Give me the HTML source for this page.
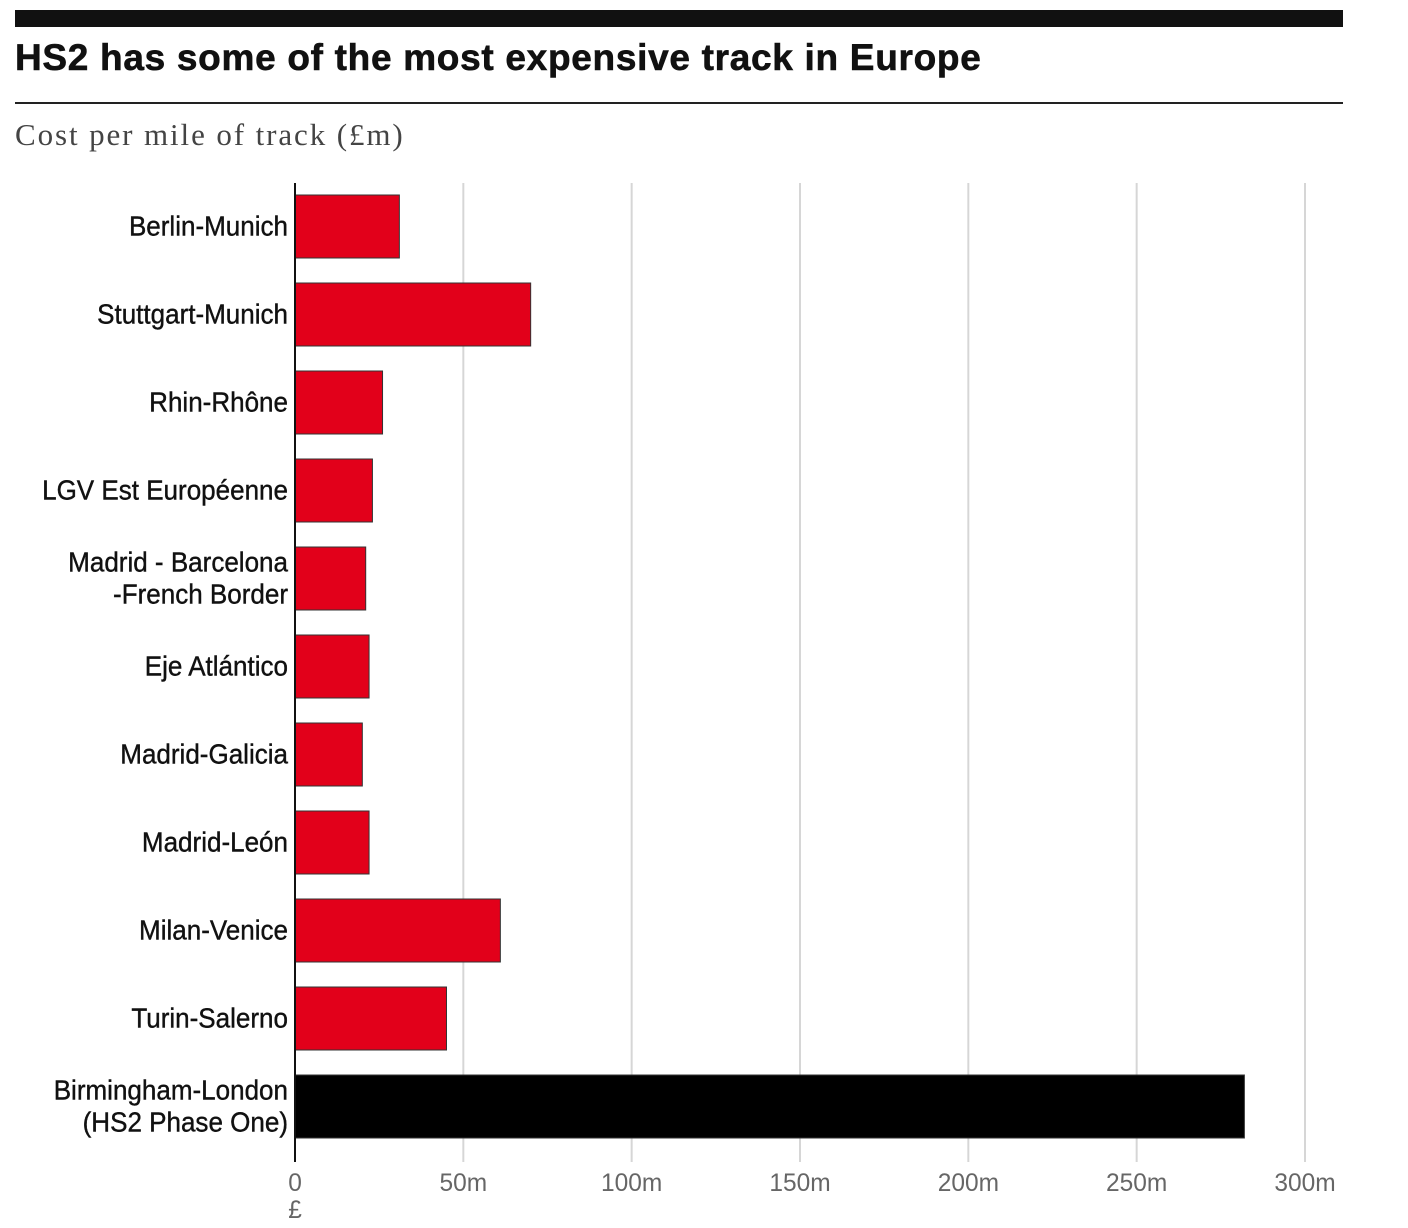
<!DOCTYPE html>
<html><head><meta charset="utf-8"><style>
body{margin:0;background:#fff;width:1408px;height:1228px;overflow:hidden}
svg{display:block}
</style></head><body>
<svg id="chart" width="1408" height="1228">
<rect x="15" y="10" width="1328" height="17" fill="#111"/>
<text x="15" y="70" font-family="Liberation Sans, sans-serif" font-weight="bold" font-size="37" fill="#111" letter-spacing="0.7" stroke="#111" stroke-width="0.6">HS2 has some of the most expensive track in Europe</text>
<rect x="15" y="102" width="1328" height="2" fill="#222"/>
<text x="15" y="145" font-family="Liberation Serif, serif" font-size="31" fill="#444" letter-spacing="1.9">Cost per mile of track (£m)</text>
<g id="grid"></g><g id="bars"></g><g id="labels"></g><g id="ticks"></g>
</svg>
<script>
const categories=[["Berlin-Munich"],["Stuttgart-Munich"],["Rhin-Rhône"],["LGV Est Européenne"],["Madrid - Barcelona","-French Border"],["Eje Atlántico"],["Madrid-Galicia"],["Madrid-León"],["Milan-Venice"],["Turin-Salerno"],["Birmingham-London","(HS2 Phase One)"]];
const values=[31,70,26,23,21,22,20,22,61,45,282];
const tickValues=[0,50,100,150,200,250,300];
const tickLabels=["0","50m","100m","150m","200m","250m","300m"];
const NS="http://www.w3.org/2000/svg";
const x0=295,pxPer=(1305-295)/300;
const xs=v=>x0+v*pxPer;
const ys=i=>195+i*88;
const bh=63;
function mk(t,a,p){const e=document.createElementNS(NS,t);for(const k in a)e.setAttribute(k,a[k]);p.appendChild(e);return e;}
const grid=document.getElementById('grid'),bars=document.getElementById('bars'),labels=document.getElementById('labels'),ticks=document.getElementById('ticks');
tickValues.forEach((v,i)=>{
 if(v>0){const l=mk('line',{x1:xs(v),x2:xs(v),y1:183,y2:1162,stroke:'#d6d6d6','stroke-width':2},grid);
 
 }
 const g=mk('g',{transform:`translate(${xs(v)},1191) scale(0.98,1)`},ticks);
 const t=mk('text',{x:0,y:0,'text-anchor':'middle','font-family':'Liberation Sans, sans-serif','font-size':25,fill:'#666'},g);
 t.textContent=tickLabels[i];
 
 
});
const pg=mk('g',{transform:`translate(${x0},1218) scale(0.98,1)`},ticks);
const pt=mk('text',{x:0,y:0,'text-anchor':'middle','font-family':'Liberation Sans, sans-serif','font-size':25,fill:'#666'},pg);
pt.textContent='£';


values.forEach((v,i)=>{
 const last=i===values.length-1;
 const r=mk('rect',{x:x0,y:ys(i),width:xs(v)-x0,height:bh,fill:last?'#000':'#e2001a',stroke:'#333','stroke-width':1},bars);
 
 
 const lines=categories[i];
 lines.forEach((s,j)=>{
  const cy=ys(i)+bh/2+9+(lines.length===2?(j===0?-16:16):0);
  const g=mk('g',{transform:`translate(288,${cy}) scale(0.93,1)`},labels);
  const t=mk('text',{x:0,y:0,'text-anchor':'end','font-family':'Liberation Sans, sans-serif','font-size':28,fill:'#111',stroke:'#111','stroke-width':0.4},g);
  t.textContent=s;
  
  
 });
});
const ax=mk('line',{x1:x0,x2:x0,y1:183,y2:1162,stroke:'#111','stroke-width':2},bars);


</script>
</body></html>
